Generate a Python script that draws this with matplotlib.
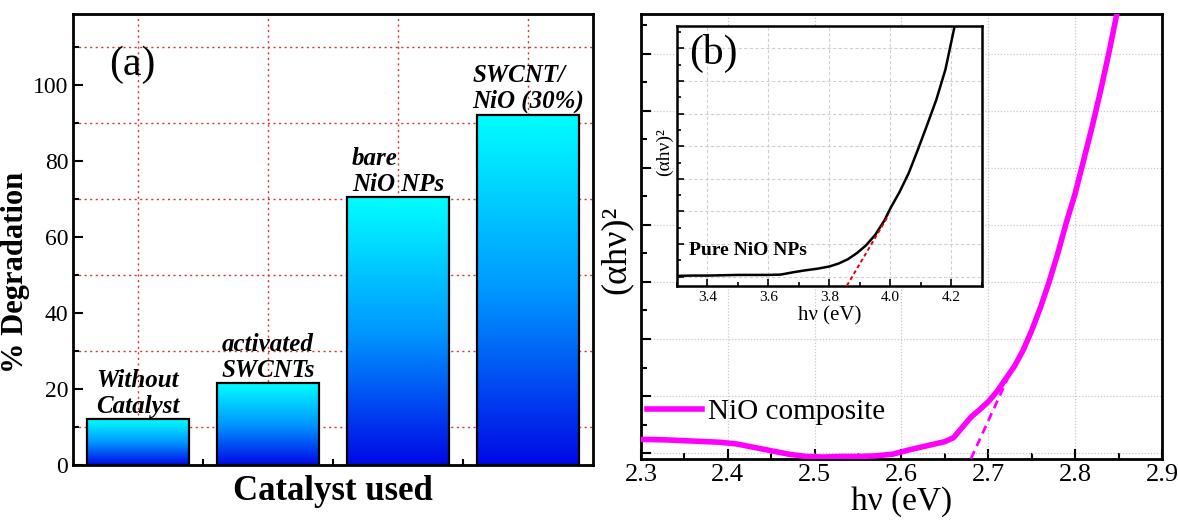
import numpy as np
import matplotlib
matplotlib.use('Agg')
import matplotlib.pyplot as plt
from matplotlib.colors import LinearSegmentedColormap
from matplotlib.ticker import MultipleLocator, FixedLocator, NullFormatter

plt.rcParams['font.family'] = ['Liberation Serif', 'DejaVu Serif']

# panel (a) data
catalysts = ['Without\nCatalyst', 'activated\nSWCNTs', 'bare\nNiO NPs', 'SWCNT/\nNiO (30%)']
degradation = [12.1, 21.5, 70.5, 92.2]

# panel (b) main curve: NiO composite
hv_comp = [2.30, 2.33, 2.36, 2.39, 2.41, 2.43, 2.45, 2.47, 2.49, 2.51, 2.53, 2.55,
           2.57, 2.59, 2.61, 2.63, 2.65, 2.66, 2.67, 2.68, 2.69, 2.70, 2.71, 2.72,
           2.73, 2.74, 2.75, 2.76, 2.77, 2.78, 2.79, 2.80, 2.81, 2.82, 2.83, 2.84, 2.85]
ahv_comp = [0.24, 0.23, 0.21, 0.19, 0.16, 0.10, 0.04, -0.02, -0.06, -0.07, -0.06, -0.06,
            -0.05, -0.02, 0.06, 0.13, 0.20, 0.27, 0.45, 0.63, 0.76, 0.90, 1.08, 1.30,
            1.52, 1.80, 2.15, 2.55, 3.00, 3.50, 4.05, 4.55, 5.15, 5.75, 6.40, 7.10, 7.85]
tan_comp_x = [2.68, 2.722]
tan_comp_y = [-0.1, 1.30]

# inset: pure NiO NPs
hv_pure = [3.30, 3.35, 3.40, 3.45, 3.50, 3.55, 3.60, 3.64, 3.68, 3.72, 3.76, 3.80, 3.83,
           3.86, 3.89, 3.92, 3.95, 3.98, 4.00, 4.03, 4.06, 4.09, 4.12, 4.15, 4.18, 4.21]
ahv_pure = [0.02, 0.03, 0.03, 0.04, 0.05, 0.05, 0.05, 0.06, 0.13, 0.19, 0.24, 0.31, 0.40,
            0.53, 0.72, 0.96, 1.28, 1.72, 2.10, 2.60, 3.18, 3.90, 4.65, 5.42, 6.35, 7.67]
tan_pure_x = [3.857, 3.994]
tan_pure_y = [-0.28, 1.89]

fig = plt.figure(figsize=(11.78, 5.24), dpi=100)

# ---------------- (a) ----------------
ax = fig.add_axes([0.062, 0.1126, 0.4414, 0.8607])
pos = np.arange(1, len(catalysts) + 1)
bars = ax.bar(pos, degradation, width=0.79, facecolor='none', edgecolor='black',
              linewidth=1.6, zorder=3)
cmap = LinearSegmentedColormap.from_list('bb', [(0, '#0008e6'), (0.5, '#0098ff'), (1, '#00ffff')])
grad = np.linspace(0, 1, 256).reshape(-1, 1)
for b in bars:
    x0, y0, w, h = b.get_x(), b.get_y(), b.get_width(), b.get_height()
    im = ax.imshow(grad, extent=[x0, x0 + w, y0, y0 + h], origin='lower', cmap=cmap,
                   aspect='auto', zorder=2)
    im.set_clip_path(b)
for p, v, lab in zip(pos, degradation, catalysts):
    ax.annotate(lab, (p, v), xytext=(0, 1), textcoords='offset points', ha='center',
                va='bottom', multialignment='left', fontsize=18, fontweight='bold',
                fontstyle='italic', linespacing=1.15)
ax.set_xlim(0.5, 4.5)
ax.set_ylim(0, 118.7)
ax.xaxis.set_major_locator(FixedLocator(pos))
ax.xaxis.set_minor_locator(FixedLocator(pos[:-1] + 0.5))
ax.set_xticklabels([])
ax.set_yticks([0, 20, 40, 60, 80, 100])
ax.yaxis.set_minor_locator(FixedLocator([10, 30, 50, 70, 90, 110]))
ax.tick_params(which='both', direction='in', top=False, right=False, width=1.5)
ax.tick_params(which='major', length=7, labelsize=17)
ax.tick_params(which='minor', length=4)
ax.grid(True, which='major', axis='x', color='#e03030', linestyle=(0, (1.5, 2.5)), linewidth=1)
ax.grid(True, which='minor', axis='y', color='#e03030', linestyle=(0, (1.5, 2.5)), linewidth=1)
ax.set_axisbelow(True)
for s in ax.spines.values():
    s.set_linewidth(2)
ax.set_ylabel('% Degradation', fontsize=22, fontweight='bold')
ax.yaxis.set_label_coords(-0.083, 0.428)
ax.set_xlabel('Catalyst used', fontsize=25, fontweight='bold', labelpad=4)
ax.text(0.07, 0.93, '(a)', transform=ax.transAxes, fontsize=30, va='top')

# ---------------- (b) ----------------
bx = fig.add_axes([0.5441, 0.124, 0.4423, 0.8493])
bx.plot(hv_comp, ahv_comp, color='#ff00ff', linewidth=4, label='NiO composite', zorder=3)
bx.plot(tan_comp_x, tan_comp_y, color='#ff00ff', linewidth=2, linestyle=(0, (3, 2)), zorder=3)
bx.set_xlim(2.3, 2.9)
bx.set_ylim(-0.105, 7.70)
bx.xaxis.set_major_locator(MultipleLocator(0.1))
bx.xaxis.set_minor_locator(MultipleLocator(0.05))
bx.yaxis.set_major_locator(MultipleLocator(1))
bx.yaxis.set_minor_locator(MultipleLocator(0.5))
bx.yaxis.set_major_formatter(NullFormatter())
bx.tick_params(which='both', direction='in', top=False, right=False, width=1.5)
bx.tick_params(which='major', length=7, labelsize=19)
bx.tick_params(which='minor', length=4)
bx.grid(True, which='major', color='#c8c8c8', linestyle=(0, (1, 1.5)), linewidth=0.9)
bx.set_axisbelow(True)
for s in bx.spines.values():
    s.set_linewidth(2)
bx.set_xlabel('h\u03bd (eV)', fontsize=24, labelpad=0)
bx.set_ylabel('(\u03b1h\u03bd)\u00b2', fontsize=26)
bx.yaxis.set_label_coords(-0.016, 0.47)
bx.legend(loc='center left', bbox_to_anchor=(0.0, 0.106), frameon=False, fontsize=21,
          handlelength=1.9, handletextpad=0.2, borderpad=0.2, borderaxespad=0)

# ---------------- inset ----------------
ix = fig.add_axes([0.5747, 0.4542, 0.2589, 0.4962])
ix.plot(hv_pure, ahv_pure, color='black', linewidth=1.8, zorder=3)
ix.plot(tan_pure_x, tan_pure_y, color='#e00000', linewidth=1.4, linestyle=(0, (2, 1.5)), zorder=3)
ix.set_xlim(3.3, 4.3)
ix.set_ylim(-0.29, 7.69)
ix.xaxis.set_major_locator(MultipleLocator(0.2))
ix.xaxis.set_minor_locator(MultipleLocator(0.1))
ix.yaxis.set_major_locator(MultipleLocator(1))
ix.yaxis.set_minor_locator(MultipleLocator(0.5))
ix.yaxis.set_major_formatter(NullFormatter())
ix.tick_params(which='both', direction='in', top=False, right=False, width=1.2)
ix.tick_params(which='major', length=5, labelsize=11)
ix.tick_params(which='minor', length=3)
ix.grid(True, which='major', color='#d0d0d0', linestyle=(0, (3, 2)), linewidth=0.8)
ix.set_axisbelow(True)
for s in ix.spines.values():
    s.set_linewidth(1.8)
ix.set_xlabel('h\u03bd (eV)', fontsize=15, labelpad=2)
ix.set_ylabel('(\u03b1h\u03bd)\u00b2', fontsize=14)
ix.yaxis.set_label_coords(-0.012, 0.515)
ix.text(0.04, 0.12, 'Pure NiO NPs', transform=ix.transAxes, fontsize=14, fontweight='bold')
ix.text(0.04, 0.97, '(b)', transform=ix.transAxes, fontsize=30, va='top')

fig.savefig('out.png', dpi=100)
